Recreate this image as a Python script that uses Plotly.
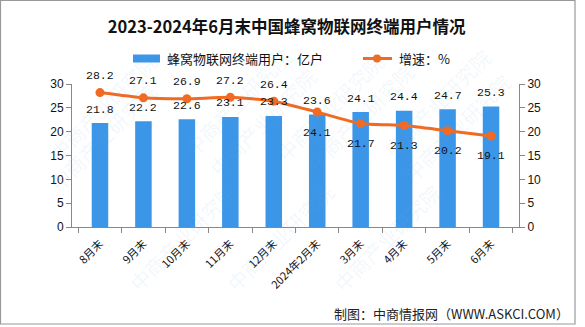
import plotly.graph_objects as go

categories = ["8月末", "9月末", "10月末", "11月末", "12月末", "2024年2月末", "3月末", "4月末", "5月末", "6月末"]
users = [21.8, 22.2, 22.6, 23.1, 23.3, 23.6, 24.1, 24.4, 24.7, 25.3]
growth = [28.2, 27.1, 26.9, 27.2, 26.4, 24.1, 21.7, 21.3, 20.2, 19.1]
growth_label_above = [True, True, True, True, True, False, False, False, False, False]
bar_name = "蜂窝物联网终端用户：亿户"
line_name = "增速：%"

bar_color = "#3c96e8"
line_color = "#f26a21"
num_font = dict(family="Liberation Mono, DejaVu Sans Mono", size=11.5, color="#111")
cjk = "Noto Sans CJK SC, Noto Sans, sans-serif"

# pixel helpers for the plot area (x: 72..519, y: 84..227)
def px_x(px):
    return (px - 72) / 447

def px_y(py):
    return (227 - py) / 143

fig = go.Figure()
fig.add_trace(go.Bar(
    x=categories, y=users, name=bar_name, showlegend=False,
    marker=dict(color=bar_color, line=dict(width=0)), width=0.38,
))
fig.add_trace(go.Scatter(
    x=categories, y=growth, name=line_name, yaxis="y2", showlegend=False,
    mode="lines+markers", line=dict(color=line_color, width=3, shape="spline", smoothing=0.6),
    marker=dict(color=line_color, size=9),
))

ann = []
for c, v in zip(categories, users):
    ann.append(dict(x=c, y=v, xref="x", yref="y", text=f"{v}", showarrow=False,
                    yshift=14, font=num_font))
for c, v, up in zip(categories, growth, growth_label_above):
    ann.append(dict(x=c, y=v, xref="x", yref="y2", text=f"{v}", showarrow=False,
                    yshift=17 if up else -20, font=num_font))

# legend texts
ann.append(dict(text=bar_name, xref="paper", yref="paper", x=px_x(165), y=px_y(58.5),
                xanchor="left", yanchor="middle", showarrow=False,
                font=dict(family=cjk, size=13, color="#111")))
ann.append(dict(text=line_name, xref="paper", yref="paper", x=px_x(397), y=px_y(58.5),
                xanchor="left", yanchor="middle", showarrow=False,
                font=dict(family=cjk, size=13, color="#111")))

# footer
ann.append(dict(text="制图：中商情报网（WWW.ASKCI.COM）", xref="paper", yref="paper",
                x=px_x(571), y=px_y(313), xanchor="right", yanchor="middle",
                showarrow=False, font=dict(family=cjk, size=13, color="#222")))

# faint watermarks
wm_pos = [(40, 45), (175, 40), (330, 45), (500, 40), (40, 200), (200, 185), (360, 180), (520, 190),
          (120, 300), (280, 300), (450, 300)]
for (px, py) in wm_pos:
    ann.append(dict(text="中商产业研究院", xref="paper", yref="paper",
                    x=px_x(px), y=px_y(py), showarrow=False, textangle=-45,
                    font=dict(family=cjk, size=20, color="rgba(120,170,220,0.10)")))

shapes = [
    dict(type="rect", xref="paper", yref="paper",
         x0=px_x(0.5), x1=px_x(575), y0=px_y(324), y1=px_y(0.5),
         line=dict(color="#999", width=1.2), layer="below"),
    # legend swatches
    dict(type="rect", xref="paper", yref="paper", x0=px_x(133), x1=px_x(160),
         y0=px_y(62.5), y1=px_y(54.5), fillcolor=bar_color, line=dict(width=0)),
    dict(type="line", xref="paper", yref="paper", x0=px_x(363), x1=px_x(392),
         y0=px_y(58.5), y1=px_y(58.5), line=dict(color=line_color, width=3)),
    dict(type="circle", xref="paper", yref="paper", x0=px_x(373), x1=px_x(381),
         y0=px_y(62.5), y1=px_y(54.5), fillcolor=line_color, line=dict(width=0)),
]

fig.update_layout(
    width=585, height=327,
    margin=dict(l=72, r=66, t=84, b=100),
    paper_bgcolor="white", plot_bgcolor="white",
    title=dict(text="<b>2023-2024年6月末中国蜂窝物联网终端用户情况</b>", x=0.49, xanchor="center",
               y=1 - 27 / 327, yanchor="middle", font=dict(family=cjk, size=16.5, color="#111")),
    showlegend=False,
    xaxis=dict(type="category", tickangle=-45, showline=True, linecolor="#888", linewidth=1,
               ticks="outside", ticklen=5, tickcolor="#888", tickson="boundaries",
               ticklabelstandoff=5,
               tickfont=dict(family=cjk, size=11, color="#111"), showgrid=False),
    yaxis=dict(range=[0, 30], dtick=5, showline=True, linecolor="#888", ticks="outside", ticklen=5,
               tickcolor="#888", showgrid=False, zeroline=False,
               tickfont=dict(family="Liberation Sans, sans-serif", size=12, color="#111")),
    yaxis2=dict(range=[0, 30], dtick=5, overlaying="y", side="right", showline=True, linecolor="#888",
                ticks="outside", ticklen=5, tickcolor="#888", showgrid=False, zeroline=False,
                tickfont=dict(family="Liberation Sans, sans-serif", size=12, color="#111")),
    annotations=ann,
    shapes=shapes,
)
fig.write_html("out.html")
